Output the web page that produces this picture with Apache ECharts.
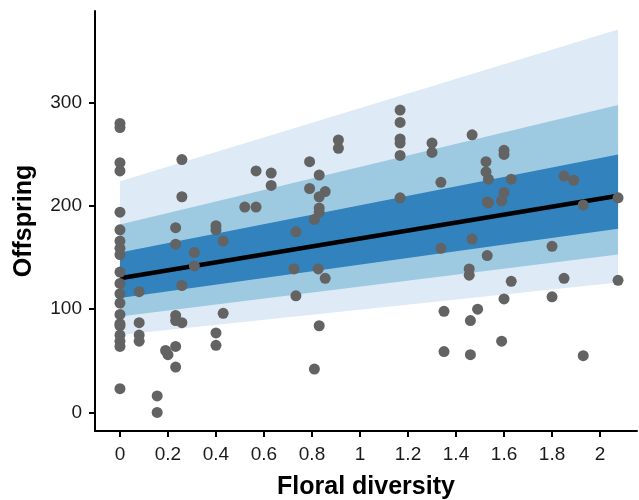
<!DOCTYPE html>
<html>
<head>
<meta charset="utf-8">
<script src="https://cdn.jsdelivr.net/npm/echarts@6/dist/echarts.min.js"></script>
<style>
  html, body { margin: 0; padding: 0; background: #fff; }
  #chart { width: 639px; height: 500px; }
</style>
</head>
<body>
<div id="chart"></div>
<script>
  // observed plants: floral diversity vs offspring
  var pointX = [
    0, 0, 0, 0, 0, 0, 0, 0, 0, 0, 0, 0, 0, 0, 0, 0, 0, 0, 0, 0,
    0.08, 0.08, 0.08, 0.08,
    0.155, 0.155, 0.19, 0.2,
    0.232, 0.232, 0.232, 0.232, 0.232, 0.232,
    0.258, 0.258, 0.258, 0.258,
    0.31, 0.31,
    0.4, 0.4, 0.4, 0.4, 0.43, 0.43,
    0.52, 0.567, 0.567, 0.63, 0.63,
    0.733, 0.725, 0.733,
    0.79, 0.79,
    0.83, 0.83, 0.83, 0.83, 0.81, 0.855, 0.826, 0.855, 0.83, 0.81,
    0.91, 0.91,
    1.167, 1.167, 1.167, 1.167, 1.167, 1.167,
    1.3, 1.3, 1.337, 1.337, 1.35, 1.35,
    1.467, 1.467, 1.455, 1.455, 1.46, 1.46, 1.49,
    1.525, 1.525, 1.535, 1.53, 1.535, 1.53,
    1.6, 1.6, 1.6, 1.59, 1.6, 1.59,
    1.63, 1.63,
    1.8, 1.8, 1.85, 1.85, 1.89, 1.93, 1.93,
    2.075, 2.075
  ];
  var pointY = [
    280, 276, 242, 234, 194, 177, 166, 159, 153, 136, 125, 115, 106, 95, 86, 84, 75, 69, 64, 23,
    117, 87, 75, 69,
    16, 0, 60, 56,
    179, 163, 94, 89, 64, 44,
    245, 209, 123, 87,
    155, 142,
    181, 177, 77, 65, 166, 96,
    199, 234, 199, 232, 220,
    175, 139, 113,
    243, 217,
    230, 209, 198, 194, 187, 214, 139, 130, 84, 42,
    264, 256,
    293, 281, 265, 261, 249, 208,
    261, 252, 223, 159, 98, 59,
    269, 168, 139, 133, 89, 56, 100,
    243, 233, 226, 204, 203, 152,
    254, 250, 213, 205, 110, 69,
    226, 127,
    161, 112, 229, 130, 225, 201, 55,
    208, 128
  ];

  // fitted line and intervals at the ends of the observed range
  var bandX = [0, 2.075];
  var fitY = [130, 210];
  var outerLow = [75, 126];
  var outerHigh = [224, 371];
  var midLow = [93, 153];
  var midHigh = [182, 298];
  var innerLow = [111, 178];
  var innerHigh = [155, 250];

  var xTicks = [0, 0.2, 0.4, 0.6, 0.8, 1, 1.2, 1.4, 1.6, 1.8, 2];
  var yTicks = [0, 100, 200, 300];

  function zip(a, b) {
    return a.map(function (v, i) { return [v, b[i]] })
  }

  // one band = polygon between a low and a high edge
  function bandSeries(low, high, color) {
    var rows = bandX.map(function (x, i) { return [x, low[i], high[i]] })
    return {
      type: 'custom',
      silent: true,
      data: rows,
      renderItem: function (params, api) {
        if (params.dataIndex !== 0) return null
        var top = rows.map(function (r) { return api.coord([r[0], r[2]]) })
        var bottom = rows.slice().reverse().map(function (r) { return api.coord([r[0], r[1]]) })
        return {
          type: 'polygon',
          shape: { points: top.concat(bottom) },
          style: { fill: color }
        }
      },
      z: 1
    }
  }

  var font = '"Liberation Sans", Arial, sans-serif'
  var chart = echarts.init(document.getElementById('chart'))
  chart.setOption({
    animation: false,
    grid: { left: 95, right: 2, top: 11, bottom: 69, outerBoundsMode: 'none' },
    xAxis: {
      type: 'value',
      min: -0.104,
      max: 2.154,
      name: 'Floral diversity',
      nameLocation: 'middle',
      nameGap: 44,
      nameTextStyle: { fontFamily: font, fontSize: 25, fontWeight: 'bold', color: '#000' },
      splitLine: { show: false },
      axisLine: { onZero: false, lineStyle: { color: '#000', width: 2 } },
      axisTick: { customValues: xTicks, length: 6, lineStyle: { color: '#000', width: 2 } },
      axisLabel: {
        customValues: xTicks,
        margin: 14,
        fontFamily: font, fontSize: 19, color: '#1a1a1a',
        formatter: function (v) { return String(Math.round(v * 10) / 10) }
      }
    },
    yAxis: {
      type: 'value',
      min: -18,
      max: 389,
      name: 'Offspring',
      nameLocation: 'middle',
      nameGap: 58,
      nameTextStyle: { fontFamily: font, fontSize: 25, fontWeight: 'bold', color: '#000' },
      splitLine: { show: false },
      axisLine: { show: true, onZero: false, lineStyle: { color: '#000', width: 2 } },
      axisTick: { show: true, customValues: yTicks, length: 6, lineStyle: { color: '#000', width: 2 } },
      axisLabel: { customValues: yTicks, margin: 13, fontFamily: font, fontSize: 19, color: '#1a1a1a' }
    },
    series: [
      bandSeries(outerLow, outerHigh, '#deebf7'),
      bandSeries(midLow, midHigh, '#9ecae1'),
      bandSeries(innerLow, innerHigh, '#3182bd'),
      {
        type: 'line',
        data: zip(bandX, fitY),
        showSymbol: false,
        lineStyle: { color: '#000', width: 4.5 },
        z: 2
      },
      {
        type: 'scatter',
        data: zip(pointX, pointY),
        symbolSize: 11,
        itemStyle: { color: '#636363', opacity: 1 },
        z: 3
      }
    ]
  })
</script>
</body>
</html>
